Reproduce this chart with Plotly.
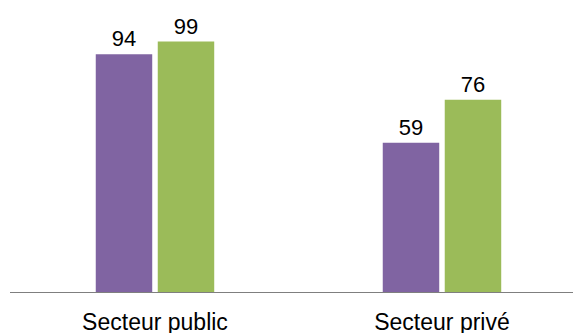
import plotly.graph_objects as go

categories = ["Secteur public", "Secteur privé"]
series_a = [94, 59]
series_b = [99, 76]

fig = go.Figure()
for values, color in [(series_a, "#8064A2"), (series_b, "#9BBB59")]:
    fig.add_trace(
        go.Bar(
            x=[0, 1],
            y=values,
            marker={"color": color, "line": {"width": 0}},
            text=[str(v) for v in values],
            textposition="outside",
            textfont={"size": 22},
            constraintext="none",
            cliponaxis=False,
        )
    )

fig.update_layout(
    width=573,
    height=333,
    margin={"l": 10, "r": 0, "t": 0, "b": 41, "autoexpand": False},
    paper_bgcolor="white",
    plot_bgcolor="white",
    showlegend=False,
    barmode="group",
    bargap=0.568,
    bargroupgap=0.089,
    font={"family": "Liberation Sans, Arial, sans-serif", "size": 22, "color": "#000000"},
    xaxis={
        "tickmode": "array",
        "tickvals": [0, 1],
        "ticktext": categories,
        "range": [-0.5052, 1.4565],
        "showgrid": False,
        "zeroline": False,
        "showline": True,
        "linecolor": "#7f7f7f",
        "linewidth": 1,
        "ticks": "outside",
        "ticklen": 9,
        "tickcolor": "rgba(0,0,0,0)",
        "tickfont": {"size": 23},
        "automargin": False,
    },
    yaxis={
        "range": [0, 115.4],
        "visible": False,
        "automargin": False,
    },
)

# the page's default body margin would push the figure off by 8px
fig.write_html(
    "out.html",
    config={"displayModeBar": False},
    post_script="document.body.style.margin='0';",
)
